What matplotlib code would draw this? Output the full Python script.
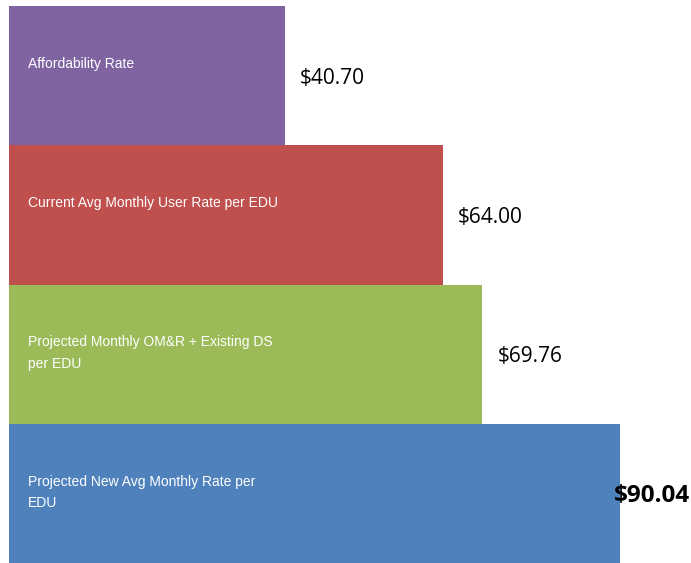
import matplotlib

matplotlib.use("Agg")
import matplotlib.pyplot as plt

# top to bottom, as drawn
CATEGORIES = [
    "Affordability Rate",
    "Current Avg Monthly User Rate per EDU",
    "Projected Monthly OM&R + Existing DS\nper EDU",
    "Projected New Avg Monthly Rate per\nEDU",
]
VALUES = [40.70, 64.00, 69.76, 90.04]
VALUE_TEXT = ["$40.70", "$64.00", "$69.76", "$90.04"]
COLORS = ["#8064A2", "#C0504D", "#9BBB59", "#4F81BD"]

LABEL_FONT = ["Liberation Sans", "DejaVu Sans"]
VALUE_FONT = ["Open Sans", "DejaVu Sans"]

X_MAX = 100.5


def main() -> None:
    fig = plt.figure(figsize=(6.91, 5.63), dpi=100)
    ax = fig.add_axes([9 / 691, 0.0, 682 / 691, 557 / 563])
    ax.set_xlim(0, X_MAX)
    ax.set_ylim(len(VALUES) - 0.5, -0.5)
    ax.axis("off")

    pos = range(len(VALUES))
    ax.barh(pos, VALUES, height=1.0, color=COLORS, edgecolor="none")

    for i, (label, value, text) in enumerate(zip(CATEGORIES, VALUES, VALUE_TEXT)):
        ax.text(2.8, i - 0.5 + 0.365, label, color="white", fontsize=10,
                family=LABEL_FONT, ha="left", va="top", linespacing=1.7)
        last = i == len(VALUES) - 1
        if last:
            # biggest value does not fit right of its bar, sits on the edge
            ax.text(X_MAX - 0.2, i + 0.02, text, fontsize=17.5, family=VALUE_FONT,
                    fontweight="bold", ha="right", va="center", color="black")
        else:
            ax.text(value + 2.2, i + 0.02, text, fontsize=15, family=VALUE_FONT,
                    ha="left", va="center", color="black")

    fig.savefig("out.png", dpi=100)
    plt.close(fig)


if __name__ == "__main__":
    main()
